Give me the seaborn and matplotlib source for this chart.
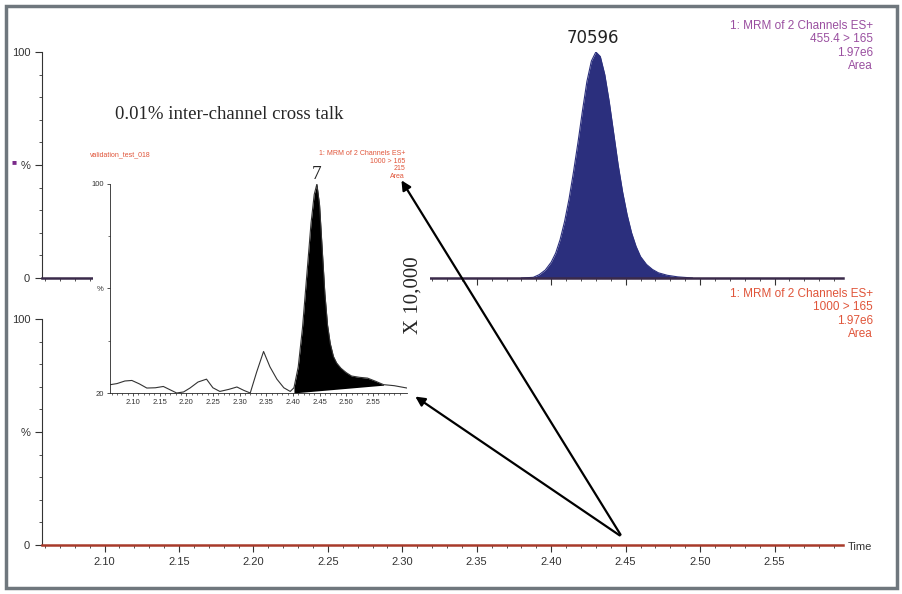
import numpy as np
import pandas as pd
import matplotlib.pyplot as plt
import matplotlib.patches as patches
import seaborn as sns

# main channel peak (455.4 > 165), % of 1.97e6
main_time = [2.380, 2.388, 2.392, 2.396, 2.400, 2.403, 2.406, 2.409, 2.412, 2.415,
             2.418, 2.421, 2.424, 2.427, 2.430, 2.433, 2.436, 2.439, 2.442, 2.445,
             2.448, 2.451, 2.454, 2.457, 2.460, 2.464, 2.468, 2.472, 2.478, 2.485, 2.495]
main_pct = [0, 0.3, 1.5, 3.5, 7, 11, 17, 25, 35, 47,
            60, 74, 87, 96, 100, 98, 90, 78, 64, 50,
            38, 28, 20, 14, 9.5, 6, 3.8, 2.3, 1.2, 0.5, 0]

# cross talk channel (1000 > 165), zoomed inset trace
inset_time = [2.058, 2.070, 2.085, 2.098, 2.112, 2.126, 2.142, 2.157, 2.170, 2.182,
              2.195, 2.207, 2.222, 2.238, 2.250, 2.263, 2.280, 2.295, 2.308, 2.320,
              2.332, 2.345, 2.357, 2.370, 2.383, 2.395, 2.402, 2.410, 2.418, 2.426,
              2.434, 2.440, 2.445, 2.450, 2.455, 2.460, 2.465, 2.470, 2.476, 2.482,
              2.490, 2.500, 2.510, 2.525, 2.540, 2.555, 2.570, 2.590, 2.614]
inset_pct = [23.2, 23.6, 24.6, 24.8, 23.5, 21.9, 22.0, 22.5, 21.2, 20.0,
             20.4, 21.9, 24.2, 25.3, 22.0, 20.6, 21.4, 22.3, 21.0, 20.0,
             28.0, 35.9, 30.0, 25.3, 22.0, 20.6, 22.0, 30.0, 45.0, 65.0,
             85.0, 96.0, 100.0, 92.0, 75.0, 58.0, 46.0, 39.0, 34.0, 31.5,
             29.5, 27.8, 26.5, 26.0, 25.7, 24.5, 23.2, 22.8, 21.9]
# baseline under integrated peak
base_time = [2.400, 2.570]
base_pct = [20.0, 23.0]

xticks = [2.10, 2.15, 2.20, 2.25, 2.30, 2.35, 2.40, 2.45, 2.50, 2.55]

sns.set_style("white", {'xtick.bottom': True, 'ytick.left': True})
plt.rcParams['font.family'] = 'Liberation Sans'
W, H = 903, 594
fig = plt.figure(figsize=(W / 100, H / 100), dpi=100)

def rect(l, r, b, t):
    return [l / W, (H - b) / H, (r - l) / W, (b - t) / H]

purple = '#9a4fa0'
red = '#e0553a'
tickc = '#333333'

def style_axis(ax, spine_color, labels):
    for s in ['top', 'right']:
        ax.spines[s].set_visible(False)
    ax.spines['left'].set_color('#333333')
    ax.spines['left'].set_linewidth(0.8)
    ax.spines['bottom'].set_color(spine_color)
    ax.spines['bottom'].set_linewidth(1.8)
    ax.set_xlim(2.058, 2.596)
    ax.set_ylim(0, 100)
    ax.set_xticks(xticks)
    ax.set_xticks(np.arange(2.06, 2.60, 0.01), minor=True)
    ax.set_xticklabels([f'{t:.2f}' for t in xticks] if labels else [])
    ax.set_yticks([0, 50, 100])
    ax.set_yticklabels(['0', '%', '100'])
    ax.set_yticks([10, 20, 30, 40, 60, 70, 80, 90], minor=True)
    ax.tick_params(axis='both', which='major', direction='out', length=5, width=0.8,
                   labelsize=8, colors=tickc)
    ax.tick_params(axis='both', which='minor', direction='out', length=2.5, width=0.6, colors=tickc)
    ax.set_xlabel('')
    ax.set_ylabel('')

ax_top = fig.add_axes(rect(42, 843, 278, 52))
ax_top.fill_between(main_time, main_pct, color='#2b2f7d', lw=0)
sns.lineplot(x=main_time, y=main_pct, ax=ax_top, color='#2b2f7d', lw=0.8)
style_axis(ax_top, '#3a2a4a', False)
ax_top.text(2.428, 102, '70596', ha='center', va='bottom', fontsize=12,
            family='DejaVu Sans', color='#222222')

ax_bot = fig.add_axes(rect(42, 843, 545, 319))
style_axis(ax_bot, '#a83a2a', True)

# white cover of inset image
fig.patches.append(patches.Rectangle((93 / W, (H - 410) / H), 337 / W, 270 / H,
                                     transform=fig.transFigure, facecolor='white',
                                     edgecolor='none', zorder=5))

ax_in = fig.add_axes(rect(110, 407, 393, 184))
ax_in.set_zorder(6)
sns.lineplot(data=pd.DataFrame({'t': inset_time, 'p': inset_pct}), x='t', y='p',
             ax=ax_in, color='#333333', lw=0.8)
t_fill = np.array([t for t in inset_time if base_time[0] <= t <= base_time[1]])
p_fill = np.array([p for t, p in zip(inset_time, inset_pct) if base_time[0] <= t <= base_time[1]])
ax_in.fill_between(t_fill, p_fill, np.interp(t_fill, base_time, base_pct), color='black', lw=0)
ax_in.set_xlim(2.057, 2.614)
ax_in.set_ylim(20, 100)
for s in ['top', 'right']:
    ax_in.spines[s].set_visible(False)
ax_in.spines['left'].set_linewidth(0.6)
ax_in.spines['bottom'].set_linewidth(0.6)
ax_in.set_xticks(xticks)
ax_in.set_xticks(np.arange(2.06, 2.61, 0.01), minor=True)
ax_in.set_xticklabels([f'{t:.2f}' for t in xticks])
ax_in.set_yticks([20, 60, 100])
ax_in.set_yticklabels(['20', '%', '100'])
ax_in.set_yticks([40, 80], minor=True)
ax_in.tick_params(which='major', direction='out', length=2.5, width=0.6, labelsize=5.5,
                  colors=tickc, pad=2)
ax_in.tick_params(which='minor', direction='out', length=1.5, width=0.5, colors=tickc)
ax_in.set_xlabel('')
ax_in.set_ylabel('')
ax_in.patch.set_alpha(0)
ax_in.text(2.445, 100.5, '7', ha='center', va='bottom', fontsize=14, family='Liberation Serif')

def ftext(x, y, s, **kw):
    fig.text(x / W, 1 - y / H, s, zorder=7, **kw)

ftext(115, 115, '0.01% inter-channel cross talk', fontsize=13.5, family='Liberation Serif', va='center')
ftext(413, 295, 'X 10,000', fontsize=15, family='Liberation Serif', rotation=90, ha='center', va='center')
ftext(90, 155, 'validation_test_018', fontsize=5, color=red, va='center')
ftext(405, 150, '1: MRM of 2 Channels ES+\n1000 > 165\n215\nArea', fontsize=5, color=red,
      ha='right', va='top', linespacing=1.1)
ftext(873, 20, '1: MRM of 2 Channels ES+\n455.4 > 165\n1.97e6\nArea', fontsize=8.5, color=purple,
      ha='right', va='top', linespacing=1.15)
ftext(873, 288, '1: MRM of 2 Channels ES+\n1000 > 165\n1.97e6\nArea', fontsize=8.5, color=red,
      ha='right', va='top', linespacing=1.15)
ftext(848, 547, 'Time', fontsize=8, color=tickc, va='center')
ftext(11, 163, '■', fontsize=6, color='#7a2a8a', va='center')

# arrows from the common point
for tx, ty in [(400, 178), (413, 395)]:
    fig.patches.append(patches.FancyArrowPatch((622 / W, 1 - 537 / H), (tx / W, 1 - ty / H),
                                               transform=fig.transFigure, arrowstyle='-|>',
                                               mutation_scale=14, lw=1.6, color='black', zorder=8))

# outer frame
fig.patches.append(patches.Rectangle((6 / W, 6 / H), 891 / W, 582 / H, transform=fig.transFigure,
                                     fill=False, edgecolor='#6f777d', lw=2.5, zorder=9))

fig.savefig('out.png', dpi=100)
